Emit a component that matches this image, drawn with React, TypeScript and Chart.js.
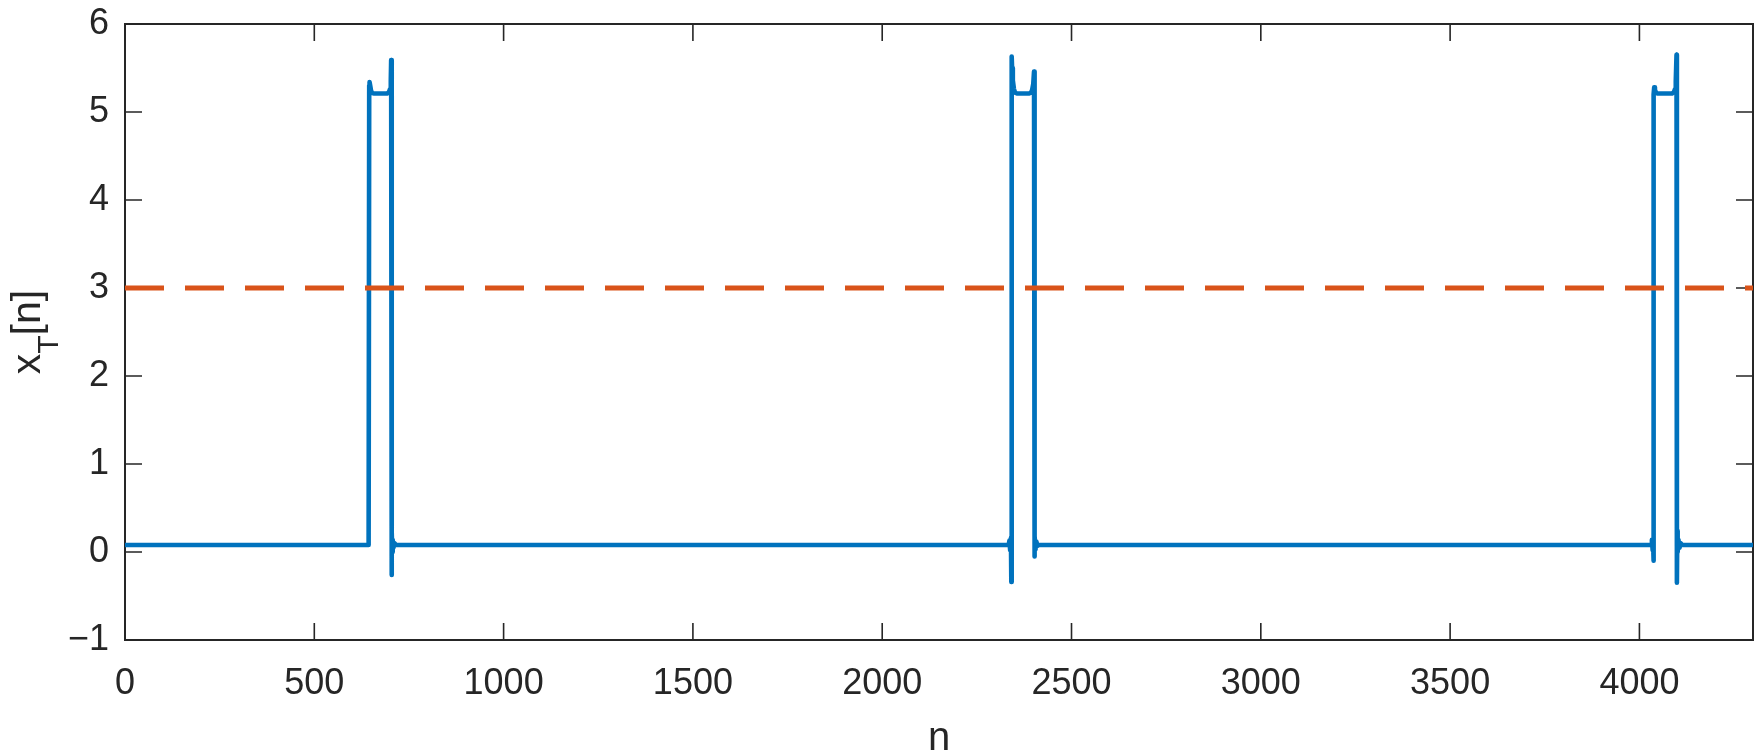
import React, { useEffect, useRef } from "react";
import { Chart, registerables } from "chart.js";

Chart.register(...registerables);

// ---------------- data ----------------
const nRange = [0, 4300];
const yRange = [-1, 6];
const xTickValues = [0, 500, 1000, 1500, 2000, 2500, 3000, 3500, 4000];
const yTickValues = [-1, 0, 1, 2, 3, 4, 5, 6];

const baselineLevel = 0.08;
const thresholdLevel = 3;

const pulse1N = [642, 643, 644, 645, 646, 648, 650, 653, 658, 692, 697, 700, 702, 703, 704, 705, 706, 707, 709, 712, 716];
const pulse1V = [0.08, 0.27, 0.12, 5.3, 5.34, 5.29, 5.24, 5.215, 5.21, 5.21, 5.225, 5.26, 5.35, 5.59, -0.26, 0.22, 0.0, 0.14, 0.05, 0.1, 0.08];

const pulse2N = [2334, 2336, 2338, 2340, 2341, 2342, 2343, 2345, 2348, 2351, 2356, 2388, 2393, 2396, 2399, 2401, 2402, 2403, 2405, 2407, 2410, 2414];
const pulse2V = [0.08, 0.13, 0.02, 0.16, -0.34, 5.63, 5.5, 5.36, 5.26, 5.22, 5.21, 5.21, 5.22, 5.25, 5.32, 5.46, -0.05, 0.18, 0.03, 0.12, 0.07, 0.08];

const pulse3N = [4031, 4033, 4035, 4036, 4037, 4038, 4039, 4041, 4044, 4048, 4086, 4091, 4094, 4096, 4098, 4099, 4100, 4101, 4103, 4106, 4109, 4113];
const pulse3V = [0.08, 0.14, 0.02, 0.12, -0.1, 5.2, 5.28, 5.25, 5.22, 5.21, 5.21, 5.225, 5.26, 5.35, 5.65, -0.35, 0.24, 0.0, 0.14, 0.05, 0.1, 0.08];

const signalN = [nRange[0], ...pulse1N, ...pulse2N, ...pulse3N, nRange[1]];
const signalV = [baselineLevel, ...pulse1V, ...pulse2V, ...pulse3V, baselineLevel];

// ---------------- style ----------------
const W = 1762;
const H = 756;
const AX = "#262626";
const FONT = "'Liberation Sans', Arial, Helvetica, sans-serif";

const fmt = (v: number) => (v < 0 ? "\u2212" + Math.abs(v) : String(v));

const framePlugin = {
  id: "matlabFrame",
  beforeDatasetsDraw(chart: any) {
    const { ctx, chartArea: a, scales } = chart;
    ctx.save();
    ctx.strokeStyle = AX;
    ctx.lineWidth = 2;
    ctx.strokeRect(a.left, a.top, a.right - a.left, a.bottom - a.top);
    ctx.lineWidth = 1.6;
    const tl = 17;
    ctx.beginPath();
    for (const v of xTickValues) {
      const px = scales.x.getPixelForValue(v);
      ctx.moveTo(px, a.bottom);
      ctx.lineTo(px, a.bottom - tl);
      ctx.moveTo(px, a.top);
      ctx.lineTo(px, a.top + tl);
    }
    for (const v of yTickValues) {
      const py = scales.y.getPixelForValue(v);
      ctx.moveTo(a.left, py);
      ctx.lineTo(a.left + tl, py);
      ctx.moveTo(a.right, py);
      ctx.lineTo(a.right - tl, py);
    }
    ctx.stroke();
    ctx.restore();
  },
  afterDraw(chart: any) {
    const { ctx, chartArea: a } = chart;
    ctx.save();
    ctx.fillStyle = AX;
    // x label
    ctx.font = `40px ${FONT}`;
    ctx.textAlign = "center";
    ctx.textBaseline = "alphabetic";
    ctx.fillText("n", (a.left + a.right) / 2, 750);
    // y label  x_T[n]
    const mainFont = `41px ${FONT}`;
    const subFont = `30px ${FONT}`;
    ctx.font = mainFont;
    const w1 = ctx.measureText("x").width;
    const w3 = ctx.measureText("[n]").width;
    ctx.font = subFont;
    const w2 = ctx.measureText("T").width;
    const total = w1 + w2 + w3;
    ctx.translate(40, (a.top + a.bottom) / 2);
    ctx.rotate(-Math.PI / 2);
    ctx.textAlign = "left";
    let s = -total / 2;
    ctx.font = mainFont;
    ctx.fillText("x", s, 0);
    s += w1;
    ctx.font = subFont;
    ctx.fillText("T", s, 18);
    s += w2;
    ctx.font = mainFont;
    ctx.fillText("[n]", s, 0);
    ctx.restore();
  },
};

export default function App() {
  const canvasRef = useRef<HTMLCanvasElement | null>(null);

  useEffect(() => {
    document.body.style.margin = "0";
    const canvas = canvasRef.current;
    if (!canvas) return;
    const signal = signalN.map((n, i) => ({ x: n, y: signalV[i] }));
    const threshold = [
      { x: nRange[0], y: thresholdLevel },
      { x: nRange[1], y: thresholdLevel },
    ];
    const tickFont = { family: FONT, size: 36 };
    const chart = new Chart(canvas, {
      type: "line",
      data: {
        datasets: [
          {
            label: "threshold",
            data: threshold,
            borderColor: "#D95319",
            borderWidth: 5,
            borderDash: [39, 21],
            borderCapStyle: "butt",
            pointRadius: 0,
            order: 0,
          },
          {
            label: "x_T[n]",
            data: signal,
            borderColor: "#0072BD",
            borderWidth: 4.6,
            borderJoinStyle: "round",
            borderCapStyle: "round",
            pointRadius: 0,
            tension: 0,
            order: 1,
          },
        ],
      },
      options: {
        animation: false,
        responsive: false,
        devicePixelRatio: 1,
        events: [],
        layout: { padding: { left: 0, right: 9, top: 24, bottom: 0 } },
        plugins: { legend: { display: false }, tooltip: { enabled: false } },
        scales: {
          x: {
            type: "linear",
            min: nRange[0],
            max: nRange[1],
            afterBuildTicks: (s: any) => {
              s.ticks = xTickValues.map((v) => ({ value: v }));
            },
            afterFit: (s: any) => {
              s.height = 116;
              s.paddingLeft = 0;
              s.paddingRight = 0;
            },
            grid: { display: false, drawTicks: false },
            border: { display: false },
            ticks: {
              font: tickFont,
              color: AX,
              padding: 22,
              maxRotation: 0,
              autoSkip: false,
              callback: (v: any) => fmt(Number(v)),
            },
          },
          y: {
            type: "linear",
            min: yRange[0],
            max: yRange[1],
            afterBuildTicks: (s: any) => {
              s.ticks = yTickValues.map((v) => ({ value: v }));
            },
            afterFit: (s: any) => {
              s.width = 125;
              s.paddingTop = 0;
              s.paddingBottom = 0;
            },
            grid: { display: false, drawTicks: false },
            border: { display: false },
            ticks: {
              font: tickFont,
              color: AX,
              padding: 16,
              autoSkip: false,
              callback: (v: any) => fmt(Number(v)),
            },
          },
        },
      },
      plugins: [framePlugin],
    } as any);
    return () => chart.destroy();
  }, []);

  return (
    <div style={{ position: "fixed", left: 0, top: 0, width: W, height: H, background: "#fff" }}>
      <canvas ref={canvasRef} width={W} height={H} style={{ display: "block", width: W, height: H }} />
    </div>
  );
}
